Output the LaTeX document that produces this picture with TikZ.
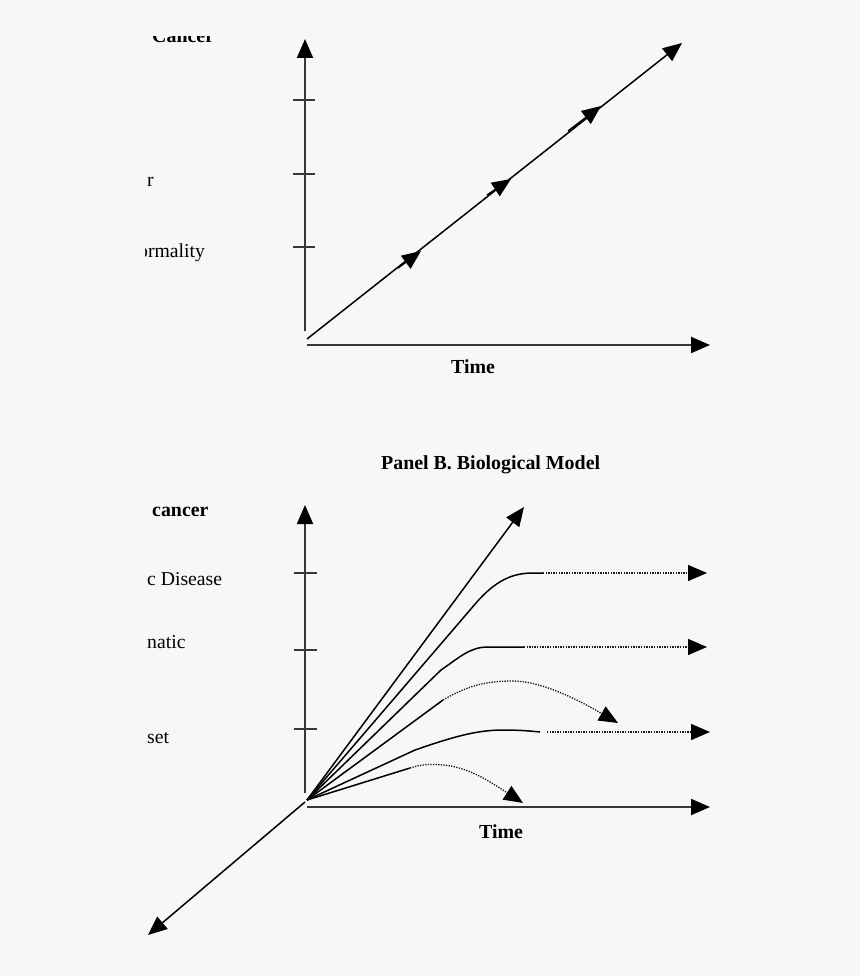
\documentclass[tikz,border=0pt]{standalone}
\usepackage{fontspec}
\setmainfont{Liberation Serif}
\usetikzlibrary{arrows.meta}
\definecolor{bgcol}{HTML}{F7F7F7}
\definecolor{axiscol}{RGB}{55,55,55}
\tikzset{
  arrowhd/.style={-{Triangle[length=19pt,width=16pt,color=black]}},
  axisline/.style={draw=axiscol,line width=1.9pt},
  ray/.style={draw=black,line width=1.5pt},
  dotline/.style={draw=black!90,line width=1.3pt,dash pattern=on 1.3pt off 1.3pt},
  ticks/.style={draw=axiscol,line width=1.6pt},
  lbl/.style={anchor=base west,inner sep=0pt,font=\fontsize{19.7}{23}\selectfont},
  blbl/.style={lbl,font=\fontsize{19.9}{23}\selectfont\bfseries}
}
\begin{document}
\begin{tikzpicture}[x=1pt,y=-1pt]
\useasboundingbox (0,0) rectangle (860,976);
\fill[bgcol] (0,0) rectangle (860,976);

% ---------- left labels (clipped as in the reference) ----------
\begin{scope}
\clip (145,37) rectangle (300,976);
\node[blbl] (lA1) at (152,43) {Cancer};
\node[lbl] (lA2) at (147,187) {r};
\node[lbl] (lA3) at (138,257) {ormality};
\node[blbl] (lB1) at (152,516) {cancer};
\node[lbl] (lB2) at (147,585) {c Disease};
\node[lbl] (lB3) at (147,648) {natic};
\node[lbl] (lB4) at (147,743) {set};
\end{scope}

% ---------- Panel A ----------
\coordinate (Ay0) at (305,331);
\coordinate (Ay1) at (305,39);
\coordinate (Ax0) at (307,345);
\coordinate (Ax1) at (710,345);
\draw[axisline,arrowhd] (Ay0) -- (Ay1);
\draw[axisline,arrowhd] (Ax0) -- (Ax1);
\foreach \yy in {100,174,247} \draw[ticks] (293,\yy) -- (315,\yy);
\coordinate (As) at (307,339);
\coordinate (Ae) at (682,43);
\draw[ray,arrowhd] (As) -- (Ae);
\coordinate (m1s) at (398,268); \coordinate (m1e) at (421,251);
\coordinate (m2s) at (487,195); \coordinate (m2e) at (511,179);
\coordinate (m3s) at (568,131); \coordinate (m3e) at (601,106);
\draw[ray,arrowhd] (m1s) -- (m1e);
\draw[ray,arrowhd] (m2s) -- (m2e);
\draw[ray,arrowhd] (m3s) -- (m3e);
\node[blbl] (tA) at (451,373) {Time};

% ---------- Panel B ----------
\node[blbl] (title) at (381,469) {Panel B. Biological Model};
\coordinate (By0) at (305,793);
\coordinate (By1) at (305,505);
\coordinate (Bx0) at (307,807);
\coordinate (Bx1) at (710,807);
\draw[axisline,arrowhd] (By0) -- (By1);
\draw[axisline,arrowhd] (Bx0) -- (Bx1);
\foreach \yy in {573,650,729} \draw[ticks] (294,\yy) -- (317,\yy);
\node[blbl] (tB) at (479,838) {Time};

\coordinate (O) at (307,800);
\coordinate (Ob) at (305,802);
\coordinate (back) at (148,935);
\draw[ray,arrowhd] (Ob) -- (back);

% ray 1
\coordinate (r1) at (524,507);
\draw[ray,arrowhd] (O) -- (r1);
% ray 2
\coordinate (r2a) at (476,603);
\coordinate (r2b) at (533,573);
\coordinate (r2c) at (543,573);
\coordinate (r2d) at (707,573);
\draw[ray] (O) -- (r2a) .. controls (496,580) and (513,573) .. (r2b) -- (r2c);
\draw[dotline,arrowhd] (r2c) -- (r2d);
% ray 3
\coordinate (r3a) at (441,670);
\coordinate (r3b) at (488,647);
\coordinate (r3c) at (524,647);
\coordinate (r3d) at (707,647);
\draw[ray] (O) -- (r3a) .. controls (460,657) and (470,647) .. (r3b) -- (r3c);
\draw[dotline,arrowhd] (r3c) -- (r3d);
% ray 4
\coordinate (r4a) at (443,700);
\coordinate (r4b) at (513,681);
\coordinate (r4c) at (618,723);
\draw[ray] (O) -- (r4a);
\draw[dotline,arrowhd] (r4a) .. controls (470,684) and (490,681) .. (r4b) .. controls (540,681) and (575,698) .. (r4c);
% ray 5
\coordinate (r5a) at (415,750);
\coordinate (r5b) at (503,730);
\coordinate (r5c) at (540,732);
\coordinate (r5d) at (547,732);
\coordinate (r5e) at (710,732);
\draw[ray] (O) -- (r5a) .. controls (450,738) and (475,730) .. (r5b) .. controls (520,730) and (530,731) .. (r5c);
\draw[dotline,arrowhd] (r5d) -- (r5e);
% ray 6
\coordinate (r6a) at (410,768);
\coordinate (r6b) at (443,765);
\coordinate (r6c) at (523,803);
\draw[ray] (O) -- (r6a);
\draw[dotline,arrowhd] (r6a) .. controls (422,764) and (432,764) .. (r6b) .. controls (470,767) and (495,785) .. (r6c);
\end{tikzpicture}
\end{document}
